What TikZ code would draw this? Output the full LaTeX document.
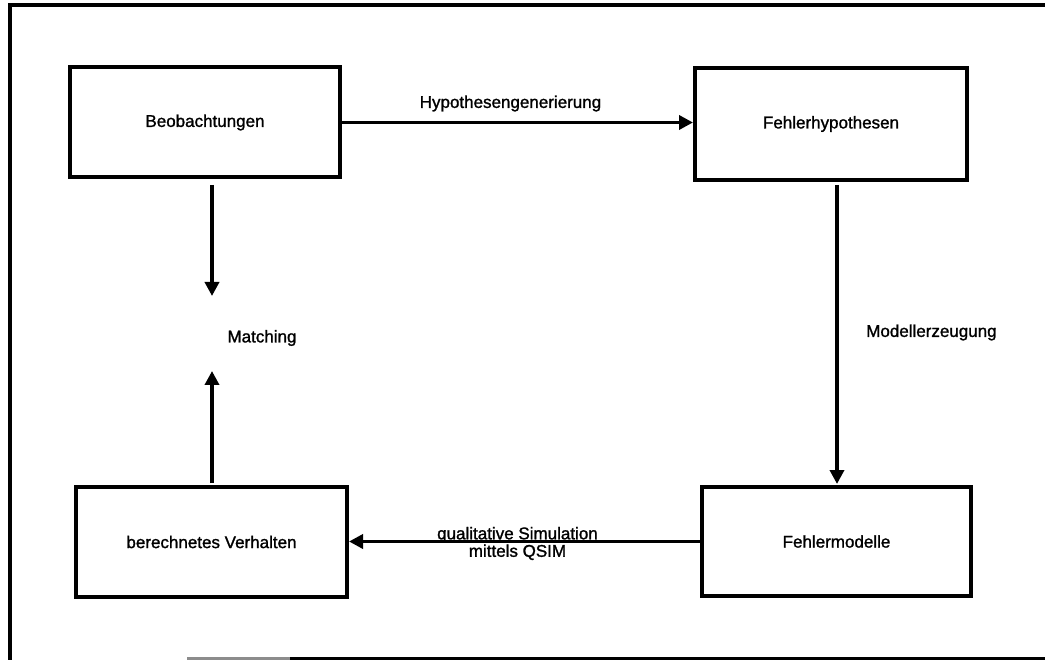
\documentclass[tikz,border=0pt]{standalone}
\usepackage{fontspec}
\setmainfont{Liberation Sans}[FakeBold=1.3]
\usetikzlibrary{arrows.meta}
\begin{document}
\begin{tikzpicture}[x=1pt,y=-1pt,
  font=\fontsize{17}{17.5}\selectfont,
  box/.style={draw, line width=4pt, minimum width=270pt, minimum height=110pt, inner sep=0pt},
  flow/.style={line width=3.8pt, -{Triangle[length=14pt,width=14pt]}},
  frameline/.style={line width=4pt}]
\useasboundingbox (0,0) rectangle (1045,660);

% outer frame
\draw[frameline] (10,660) -- (10,5) -- (1045,5);
\draw[line width=3pt, black!45] (187,658) -- (290,658);
\draw[line width=3pt] (290,658) -- (1045,658);

% boxes
\node[box] (beob) at (205,122.5) {Beobachtungen};
\node[box, minimum width=272pt, minimum height=112pt] (hyp) at (831,124) {Fehlerhypothesen};
\node[box, minimum width=271pt] (verh) at (211.5,542) {berechnetes Verhalten};
\node[box, minimum width=269pt, minimum height=109pt] (modl) at (836.5,541.5) {Fehlermodelle};

% matching label and the arrow ends around it
\node (match) at (262,338) {Matching};
\coordinate (mtop) at (212,296);
\coordinate (mbot) at (212,371);
\coordinate (btop) at (212,185);
\coordinate (vbot) at (212,483);
\coordinate (hbot) at (837,185);
\coordinate (mdtop) at (837,484);

% connectors
\draw[flow] (beob.east) -- node[pos=0.48, yshift=19pt] {Hypothesengenerierung} (beob.east -| hyp.west);
\draw[flow] (hbot) -- node[midway, anchor=west, xshift=24pt, yshift=2pt] {Modellerzeugung} (mdtop);
\draw[flow] (modl.west) -- node[pos=0.52, align=center, yshift=-2pt] {qualitative Simulation\\mittels QSIM} (modl.west -| verh.east);
\draw[flow] (btop) -- (mtop);
\draw[flow] (vbot) -- (mbot);
\end{tikzpicture}
\end{document}
